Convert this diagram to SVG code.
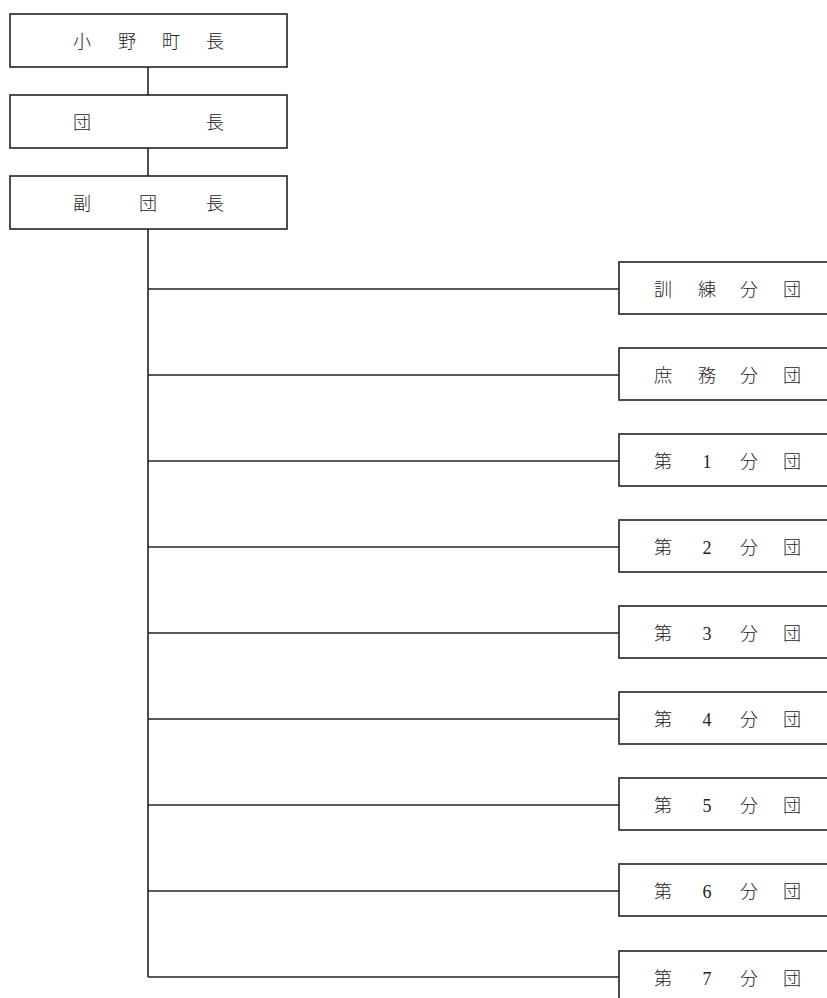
<svg xmlns="http://www.w3.org/2000/svg" width="827" height="998" viewBox="0 0 827 998">
<style>
.b{fill:#fff;stroke:#222;stroke-width:1.6}
.l{stroke:#222;stroke-width:1.6;fill:none}
text{font-family:"Liberation Serif","Noto Sans CJK JP",serif;font-size:18px;fill:#222;text-anchor:middle;font-weight:300}
</style>
<rect width="827" height="998" fill="#fff"/>
<g id="connectors">
<line class="l" x1="148" y1="67" x2="148" y2="95"/>
<line class="l" x1="148" y1="148" x2="148" y2="176"/>
<line class="l" x1="148" y1="229" x2="148" y2="977"/>
<line class="l" x1="148" y1="289" x2="619" y2="289"/>
<line class="l" x1="148" y1="375" x2="619" y2="375"/>
<line class="l" x1="148" y1="461" x2="619" y2="461"/>
<line class="l" x1="148" y1="547" x2="619" y2="547"/>
<line class="l" x1="148" y1="633" x2="619" y2="633"/>
<line class="l" x1="148" y1="719" x2="619" y2="719"/>
<line class="l" x1="148" y1="805" x2="619" y2="805"/>
<line class="l" x1="148" y1="891" x2="619" y2="891"/>
<line class="l" x1="148" y1="977" x2="619" y2="977"/>
</g>
<g id="n-mayor"><rect class="b" x="10" y="14" width="277" height="53"/>
<text y="48"><tspan x="82">小</tspan><tspan x="127">野</tspan><tspan x="171">町</tspan><tspan x="215">長</tspan></text></g>
<g id="n-chief"><rect class="b" x="10" y="95" width="277" height="53"/>
<text y="129"><tspan x="82">団</tspan><tspan x="215">長</tspan></text></g>
<g id="n-vice"><rect class="b" x="10" y="176" width="277" height="53"/>
<text y="210"><tspan x="82">副</tspan><tspan x="148">団</tspan><tspan x="215">長</tspan></text></g>
<g id="n-kunren"><rect class="b" x="619" y="262" width="220" height="52"/>
<text y="296"><tspan x="663">訓</tspan><tspan x="707">練</tspan><tspan x="749">分</tspan><tspan x="792">団</tspan></text></g>
<g id="n-shomu"><rect class="b" x="619" y="348" width="220" height="52"/>
<text y="382"><tspan x="663">庶</tspan><tspan x="707">務</tspan><tspan x="749">分</tspan><tspan x="792">団</tspan></text></g>
<g id="n-1"><rect class="b" x="619" y="434" width="220" height="52"/>
<text y="468"><tspan x="663">第</tspan><tspan x="707">1</tspan><tspan x="749">分</tspan><tspan x="792">団</tspan></text></g>
<g id="n-2"><rect class="b" x="619" y="520" width="220" height="52"/>
<text y="554"><tspan x="663">第</tspan><tspan x="707">2</tspan><tspan x="749">分</tspan><tspan x="792">団</tspan></text></g>
<g id="n-3"><rect class="b" x="619" y="606" width="220" height="52"/>
<text y="640"><tspan x="663">第</tspan><tspan x="707">3</tspan><tspan x="749">分</tspan><tspan x="792">団</tspan></text></g>
<g id="n-4"><rect class="b" x="619" y="692" width="220" height="52"/>
<text y="726"><tspan x="663">第</tspan><tspan x="707">4</tspan><tspan x="749">分</tspan><tspan x="792">団</tspan></text></g>
<g id="n-5"><rect class="b" x="619" y="778" width="220" height="52"/>
<text y="812"><tspan x="663">第</tspan><tspan x="707">5</tspan><tspan x="749">分</tspan><tspan x="792">団</tspan></text></g>
<g id="n-6"><rect class="b" x="619" y="864" width="220" height="52"/>
<text y="898"><tspan x="663">第</tspan><tspan x="707">6</tspan><tspan x="749">分</tspan><tspan x="792">団</tspan></text></g>
<g id="n-7"><rect class="b" x="619" y="951" width="220" height="60"/>
<text y="985"><tspan x="663">第</tspan><tspan x="707">7</tspan><tspan x="749">分</tspan><tspan x="792">団</tspan></text></g>
</svg>
